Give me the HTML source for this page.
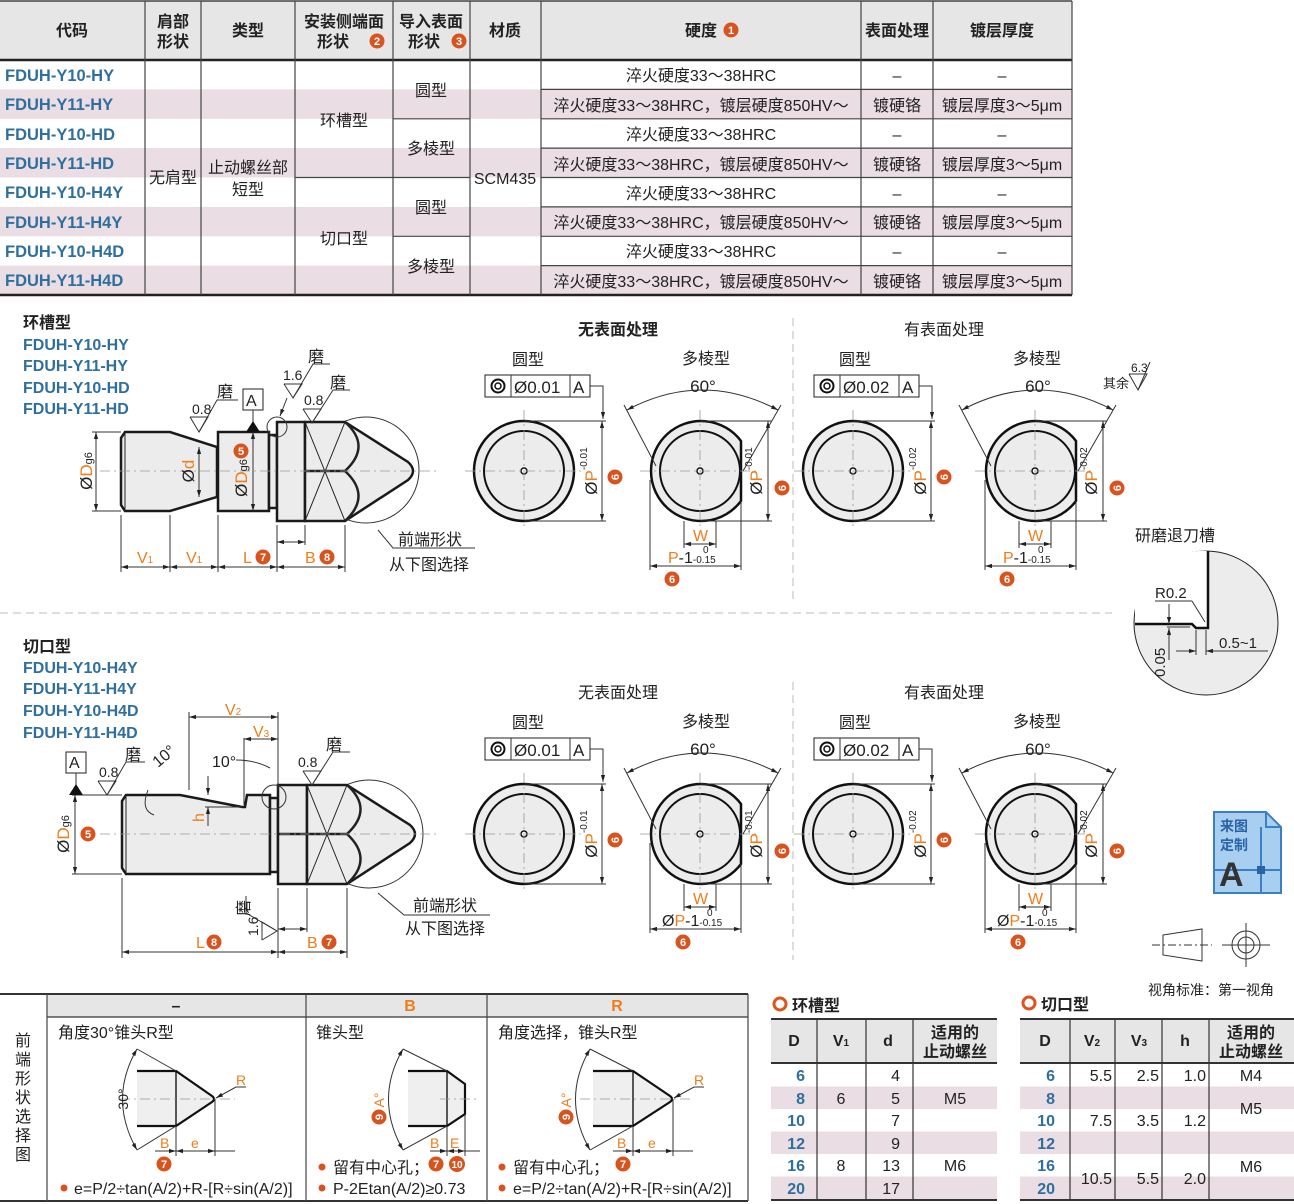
<!DOCTYPE html>
<html><head><meta charset="utf-8">
<style>
html,body{margin:0;padding:0;background:#fff;}
svg{display:block;font-family:"Liberation Sans","Noto Sans CJK SC",sans-serif;}
.t{font-size:16px;fill:#222;}
.c{text-anchor:middle;}
.b{font-weight:bold;}
.blue{fill:#2f6f9e;font-weight:bold;}
.or{fill:#ee7d1a;}
.ln{stroke:#222;fill:none;}
.thin{stroke:#333;stroke-width:1;fill:none;}
.cl{stroke:#999;stroke-width:0.8;stroke-dasharray:10 4 2 4;fill:none;}
.part{fill:#ececec;stroke:#1a1a1a;stroke-width:2.5;}
</style></head>
<body>
<svg width="1294" height="1204" viewBox="0 0 1294 1204" xmlns="http://www.w3.org/2000/svg">
<defs>
<marker id="ar" viewBox="0 0 10 10" refX="10" refY="5" markerWidth="7" markerHeight="7" orient="auto-start-reverse"><path d="M0,2 L10,5 L0,8 z" fill="#222"/></marker>
</defs>

<!-- ================= TOP TABLE ================= -->
<rect x="0" y="1" width="1072" height="59" fill="#e6e6e6"/>
<g fill="#eadde3">
<rect x="0" y="89.4" width="1072" height="29.4"/>
<rect x="0" y="148.1" width="1072" height="29.4"/>
<rect x="0" y="206.9" width="1072" height="29.4"/>
<rect x="0" y="265.6" width="1072" height="29.4"/>
</g>
<line x1="0" y1="1" x2="1072" y2="1" stroke="#444" stroke-width="1.5"/>
<line x1="0" y1="60" x2="1072" y2="60" stroke="#222" stroke-width="2.5"/>
<line x1="0" y1="295" x2="1072" y2="295" stroke="#222" stroke-width="2.5"/>
<g stroke="#444" stroke-width="1.2">
<line x1="145" y1="1" x2="145" y2="295"/>
<line x1="201" y1="1" x2="201" y2="295"/>
<line x1="295" y1="1" x2="295" y2="295"/>
<line x1="393" y1="1" x2="393" y2="295"/>
<line x1="470" y1="1" x2="470" y2="295"/>
<line x1="541" y1="1" x2="541" y2="295"/>
<line x1="861" y1="1" x2="861" y2="295"/>
<line x1="933" y1="1" x2="933" y2="295"/>
<line x1="1072" y1="1" x2="1072" y2="295"/>
<!-- row lines in hardness cols -->
<line x1="541" y1="89.4" x2="1072" y2="89.4"/>
<line x1="541" y1="118.8" x2="1072" y2="118.8"/>
<line x1="541" y1="148.1" x2="1072" y2="148.1"/>
<line x1="541" y1="177.5" x2="1072" y2="177.5"/>
<line x1="541" y1="206.9" x2="1072" y2="206.9"/>
<line x1="541" y1="236.3" x2="1072" y2="236.3"/>
<line x1="541" y1="265.6" x2="1072" y2="265.6"/>
<!-- merged col lines -->
<line x1="393" y1="118.8" x2="470" y2="118.8"/>
<line x1="295" y1="177.5" x2="470" y2="177.5"/>
<line x1="393" y1="236.3" x2="470" y2="236.3"/>
</g>
<g class="t b" style="font-size:16px">
<text x="72" y="36" class="c">代码</text>
<text x="173" y="27" class="c">肩部</text>
<text x="173" y="47" class="c">形状</text>
<text x="248" y="36" class="c">类型</text>
<text x="344" y="27" class="c">安装侧端面</text>
<text x="333" y="47" class="c">形状</text>
<text x="431" y="27" class="c">导入表面</text>
<text x="424" y="47" class="c">形状</text>
<text x="505" y="36" class="c">材质</text>
<text x="701" y="36" class="c">硬度</text>
<text x="897" y="36" class="c">表面处理</text>
<text x="1002" y="36" class="c">镀层厚度</text>
</g>
<g fill="#d9531e"><circle cx="377" cy="41" r="7.5"/><circle cx="459" cy="41" r="7.5"/><circle cx="731" cy="30" r="7.5"/></g>
<g fill="#fff" font-size="11" font-weight="bold" text-anchor="middle"><text x="377" y="45">2</text><text x="459" y="45">3</text><text x="731" y="34">1</text></g>

<g class="blue" font-size="16.5">
<text x="5" y="81">FDUH-Y10-HY</text>
<text x="5" y="110">FDUH-Y11-HY</text>
<text x="5" y="140">FDUH-Y10-HD</text>
<text x="5" y="169">FDUH-Y11-HD</text>
<text x="5" y="198">FDUH-Y10-H4Y</text>
<text x="5" y="228">FDUH-Y11-H4Y</text>
<text x="5" y="257">FDUH-Y10-H4D</text>
<text x="5" y="286">FDUH-Y11-H4D</text>
</g>
<g class="t">
<text x="173" y="183" class="c">无肩型</text>
<text x="248" y="173" class="c">止动螺丝部</text>
<text x="248" y="195" class="c">短型</text>
<text x="344" y="126" class="c">环槽型</text>
<text x="344" y="244" class="c">切口型</text>
<text x="431" y="96" class="c">圆型</text>
<text x="431" y="154" class="c">多棱型</text>
<text x="431" y="213" class="c">圆型</text>
<text x="431" y="272" class="c">多棱型</text>
<text x="505" y="184" class="c">SCM435</text>
</g>
<g class="t c">
<text x="701" y="81">淬火硬度33～38HRC</text>
<text x="701" y="111">淬火硬度33～38HRC，镀层硬度850HV～</text>
<text x="701" y="140">淬火硬度33～38HRC</text>
<text x="701" y="170">淬火硬度33～38HRC，镀层硬度850HV～</text>
<text x="701" y="199">淬火硬度33～38HRC</text>
<text x="701" y="228">淬火硬度33～38HRC，镀层硬度850HV～</text>
<text x="701" y="257">淬火硬度33～38HRC</text>
<text x="701" y="287">淬火硬度33～38HRC，镀层硬度850HV～</text>
<text x="897" y="81">–</text><text x="897" y="111">镀硬铬</text>
<text x="897" y="140">–</text><text x="897" y="170">镀硬铬</text>
<text x="897" y="199">–</text><text x="897" y="228">镀硬铬</text>
<text x="897" y="257">–</text><text x="897" y="287">镀硬铬</text>
<text x="1002" y="81">–</text><text x="1002" y="111">镀层厚度3～5μm</text>
<text x="1002" y="140">–</text><text x="1002" y="170">镀层厚度3～5μm</text>
<text x="1002" y="199">–</text><text x="1002" y="228">镀层厚度3～5μm</text>
<text x="1002" y="257">–</text><text x="1002" y="287">镀层厚度3～5μm</text>
</g>

<!-- separators -->
<line x1="0" y1="613" x2="1112" y2="613" stroke="#bbb" stroke-dasharray="8 5"/>
<line x1="793" y1="318" x2="793" y2="600" stroke="#bbb" stroke-dasharray="8 5"/>
<line x1="793" y1="682" x2="793" y2="960" stroke="#bbb" stroke-dasharray="8 5"/>

<!-- ================= 环槽型 drawing ================= -->
<text x="23" y="328" class="t b">环槽型</text>
<g class="blue" font-size="16"><text x="23" y="350">FDUH-Y10-HY</text><text x="23" y="371">FDUH-Y11-HY</text><text x="23" y="393">FDUH-Y10-HD</text><text x="23" y="414">FDUH-Y11-HD</text></g>

<circle cx="366" cy="470" r="53" fill="none" stroke="#333" stroke-width="1"/>
<path class="part" d="M125,432 L170,432 L217,447 L217,497 L170,511 L125,511 L121,505 L121,438 Z"/>
<line x1="125" y1="432" x2="125" y2="511" stroke="#222" stroke-width="1"/>
<rect class="part" x="218" y="432" width="51" height="79"/>
<rect class="part" x="269" y="435" width="8" height="73"/>
<rect class="part" x="277" y="422" width="28" height="99"/>
<path class="part" d="M305,422 L345,422 L408,462 Q418,471 408,480 L345,521 L305,521 Z"/>
<g stroke="#222" stroke-width="1" fill="none">
<line x1="305" y1="422" x2="345" y2="521"/><line x1="345" y1="422" x2="305" y2="521"/>
<line x1="305" y1="471" x2="345" y2="471" stroke-width="2.5"/>
<path d="M345,422 Q372,446 345,471 Q372,496 345,521" stroke-width="2.5"/>
</g>
<line class="cl" x1="100" y1="471" x2="440" y2="471"/>
<circle cx="277" cy="427" r="10" fill="none" stroke="#333"/>
<!-- dims -->
<g class="thin">
<line x1="96" y1="432" x2="96" y2="511" marker-start="url(#ar)" marker-end="url(#ar)"/>
<line x1="92" y1="432" x2="121" y2="432"/><line x1="92" y1="511" x2="121" y2="511"/>
<line x1="199" y1="447" x2="199" y2="497" marker-start="url(#ar)" marker-end="url(#ar)"/>
<line x1="253" y1="432" x2="253" y2="511" marker-start="url(#ar)" marker-end="url(#ar)"/>
<line x1="121" y1="515" x2="121" y2="572"/><line x1="170" y1="515" x2="170" y2="572"/>
<line x1="218" y1="515" x2="218" y2="572"/><line x1="277" y1="525" x2="277" y2="572"/>
<line x1="305" y1="525" x2="305" y2="545"/><line x1="345" y1="525" x2="345" y2="572"/>
<line x1="121" y1="567" x2="170" y2="567" marker-start="url(#ar)" marker-end="url(#ar)"/>
<line x1="170" y1="567" x2="218" y2="567" marker-start="url(#ar)" marker-end="url(#ar)"/>
<line x1="218" y1="567" x2="277" y2="567" marker-start="url(#ar)" marker-end="url(#ar)"/>
<line x1="277" y1="567" x2="345" y2="567" marker-start="url(#ar)" marker-end="url(#ar)"/>
<line x1="277" y1="542" x2="305" y2="542" marker-start="url(#ar)" marker-end="url(#ar)"/>
<polyline points="378,530 393,548 475,548"/>
<!-- roughness -->
<polyline points="190,417 208,417 199,432 190,417"/><polyline points="199,432 217,400 238,400"/>
<polyline points="284,384 302,384 293,398 284,384"/><polyline points="293,398 313,364 330,364"/>
<line x1="287" y1="398" x2="280" y2="416" marker-end="url(#ar)"/>
<polyline points="303,409 321,409 312,423 303,409"/><polyline points="312,423 333,390 350,390"/>
<rect x="243" y="389" width="20" height="21" stroke="#222"/>
<line x1="253" y1="410" x2="253" y2="423"/>
</g>
<path d="M246,432 L260,432 L253,421 Z" fill="#111"/>
<g font-size="14" fill="#222"><text x="192" y="414">0.8</text><text x="283" y="380">1.6</text><text x="304" y="405">0.8</text></g>
<g class="t"><text x="217" y="397">磨</text><text x="308" y="362">磨</text><text x="330" y="388">磨</text><text x="246" y="406" font-size="16">A</text>
<text x="398" y="545">前端形状</text><text x="389" y="570">从下图选择</text></g>
<text transform="rotate(-90 92 471)" x="92" y="471" font-size="17" text-anchor="middle" fill="#222">Ø<tspan class="or">D</tspan><tspan font-size="11">g6</tspan></text>
<text transform="rotate(-90 194 471)" x="194" y="471" font-size="17" text-anchor="middle" fill="#222">Ø<tspan class="or">d</tspan></text>
<text transform="rotate(-90 247 478)" x="247" y="478" font-size="17" text-anchor="middle" fill="#222">Ø<tspan class="or">D</tspan><tspan font-size="11">g6</tspan></text>
<g font-size="16" class="or"><text x="137" y="563">V<tspan font-size="10">1</tspan></text><text x="186" y="563">V<tspan font-size="10">1</tspan></text><text x="243" y="563">L</text><text x="305" y="563">B</text></g>

<!-- ================= 切口型 drawing ================= -->
<text x="23" y="652" class="t b">切口型</text>
<g class="blue" font-size="16"><text x="23" y="673">FDUH-Y10-H4Y</text><text x="23" y="694">FDUH-Y11-H4Y</text><text x="23" y="716">FDUH-Y10-H4D</text><text x="23" y="738">FDUH-Y11-H4D</text></g>

<circle cx="369" cy="834" r="54" fill="none" stroke="#333" stroke-width="1"/>
<path class="part" d="M126,795 L180,795 L242,807 L245,807 L247,795 L270,795 L270,874 L126,874 L122,868 L122,801 Z"/>
<line x1="126" y1="795" x2="126" y2="874" stroke="#222" stroke-width="1"/>
<rect class="part" x="270" y="798" width="8" height="74"/>
<rect class="part" x="278" y="785" width="29" height="99"/>
<path class="part" d="M307,785 L347,785 L410,825 Q420,834 410,843 L347,884 L307,884 Z"/>
<g stroke="#222" stroke-width="1" fill="none">
<line x1="307" y1="785" x2="347" y2="884"/><line x1="347" y1="785" x2="307" y2="884"/>
<line x1="278" y1="834" x2="347" y2="834" stroke-width="2.5"/>
<path d="M347,785 Q374,809 347,834 Q374,859 347,884" stroke-width="2.5"/>
</g>
<line class="cl" x1="100" y1="834" x2="440" y2="834"/>
<circle cx="274" cy="797" r="12" fill="none" stroke="#333"/>
<g class="thin">
<line x1="75" y1="795" x2="75" y2="874" marker-start="url(#ar)" marker-end="url(#ar)"/>
<line x1="72" y1="795" x2="122" y2="795"/><line x1="72" y1="874" x2="122" y2="874"/>
<line x1="122" y1="878" x2="122" y2="958"/><line x1="278" y1="888" x2="278" y2="958"/>
<line x1="307" y1="888" x2="307" y2="932"/><line x1="347" y1="888" x2="347" y2="958"/>
<line x1="122" y1="952" x2="278" y2="952" marker-start="url(#ar)" marker-end="url(#ar)"/>
<line x1="278" y1="952" x2="347" y2="952" marker-start="url(#ar)" marker-end="url(#ar)"/>
<line x1="278" y1="929" x2="307" y2="929" marker-start="url(#ar)" marker-end="url(#ar)"/>
<line x1="189" y1="712" x2="189" y2="790"/><line x1="278" y1="712" x2="278" y2="790"/>
<line x1="244" y1="738" x2="244" y2="805"/>
<line x1="189" y1="717" x2="278" y2="717" marker-start="url(#ar)" marker-end="url(#ar)"/>
<line x1="244" y1="739" x2="278" y2="739" marker-start="url(#ar)" marker-end="url(#ar)"/>
<line x1="208" y1="776" x2="208" y2="795" marker-end="url(#ar)"/>
<line x1="208" y1="826" x2="208" y2="807" marker-end="url(#ar)"/>
<line x1="205" y1="807" x2="242" y2="807"/>
<path d="M148,790 Q140,810 154,815"/>
<path d="M236,760 Q255,760 270,768"/>
<polyline points="98,781 116,781 107,795 98,781"/><polyline points="107,795 126,762 145,762"/>
<polyline points="303,771 321,771 312,785 303,771"/><polyline points="312,785 333,752 350,752"/>
<polyline points="262,940 262,922 277,931 262,940"/><polyline points="277,931 246,913 246,896"/>
<polyline points="378,893 404,915 490,915"/>
<rect x="66" y="752" width="20" height="21" stroke="#222"/>
<line x1="76" y1="773" x2="76" y2="786"/>
</g>
<path d="M69,795 L83,795 L76,784 Z" fill="#111"/>
<g font-size="14" fill="#222"><text x="99" y="777">0.8</text><text x="298" y="767">0.8</text><text transform="rotate(-90 258 936)" x="258" y="936">1.6</text>
<text transform="rotate(-40 158 768)" x="158" y="768" font-size="16">10°</text><text x="212" y="767" font-size="16">10°</text></g>
<g class="t"><text x="125" y="760">磨</text><text x="326" y="750">磨</text><text x="69" y="768">A</text><text transform="rotate(-90 242 902)" x="228" y="909">磨</text>
<text x="413" y="911">前端形状</text><text x="405" y="934">从下图选择</text></g>
<text transform="rotate(-90 69 834)" x="69" y="834" font-size="17" text-anchor="middle" fill="#222">Ø<tspan class="or">D</tspan><tspan font-size="11">g6</tspan></text>
<text transform="rotate(-90 204 822)" x="204" y="822" font-size="16" class="or">h</text>
<g font-size="16" class="or"><text x="225" y="715">V<tspan font-size="10">2</tspan></text><text x="253" y="737">V<tspan font-size="10">3</tspan></text><text x="196" y="948">L</text><text x="307" y="948">B</text></g>

<!-- badges -->
<g fill="#d9531e">
<circle cx="241" cy="451" r="7.5"/><circle cx="263" cy="557" r="7.5"/><circle cx="327" cy="557" r="7.5"/>
<circle cx="88" cy="834" r="7.5"/><circle cx="214" cy="942" r="7.5"/><circle cx="329" cy="942" r="7.5"/>
</g>
<g fill="#fff" font-size="11" font-weight="bold" text-anchor="middle">
<text x="241" y="455">5</text><text x="263" y="561">7</text><text x="327" y="561">8</text>
<text x="88" y="838">5</text><text x="214" y="946">8</text><text x="329" y="946">7</text>
</g>

<!-- ================= circle views ================= -->
<g id="views">
<g font-size="16" class="t">
<text x="618" y="335" class="c b" font-weight="500">无表面处理</text><text x="944" y="335" class="c">有表面处理</text>
<text x="528" y="365" class="c">圆型</text><text x="706" y="364" class="c">多棱型</text>
<text x="855" y="365" class="c">圆型</text><text x="1037" y="364" class="c">多棱型</text>
<text x="618" y="698" class="c">无表面处理</text><text x="944" y="698" class="c">有表面处理</text>
<text x="528" y="728" class="c">圆型</text><text x="706" y="727" class="c">多棱型</text>
<text x="855" y="728" class="c">圆型</text><text x="1037" y="727" class="c">多棱型</text>
</g>
</g>
<!-- generic round view function expanded: 4 round, 4 multi -->
<!-- round view A (524,471) -->
<g>
<circle cx="524" cy="471" r="50" fill="#ececec" stroke="#111" stroke-width="2.5"/>
<circle cx="524" cy="471" r="40" fill="none" stroke="#111" stroke-width="2"/>
<circle cx="524" cy="471" r="3" fill="#fff" stroke="#111" stroke-width="1.5"/>
<line class="cl" x1="465" y1="471" x2="585" y2="471"/><line class="cl" x1="524" y1="410" x2="524" y2="530"/>
<g class="thin"><line x1="524" y1="421" x2="606" y2="421"/><line x1="524" y1="521" x2="606" y2="521"/>
<line x1="602" y1="421" x2="602" y2="521" marker-start="url(#ar)" marker-end="url(#ar)"/>
<polyline points="590,386 603,386 603,419" marker-end="url(#ar)"/>
<rect x="485" y="375" width="105" height="22" stroke="#222"/><line x1="511" y1="375" x2="511" y2="397"/><line x1="570" y1="375" x2="570" y2="397"/></g>
<circle cx="498" cy="386" r="6.5" fill="none" stroke="#111" stroke-width="2"/><circle cx="498" cy="386" r="3" fill="none" stroke="#111" stroke-width="1.5"/>
<text x="514" y="393" font-size="17" fill="#222">Ø0.01</text><text x="573" y="393" font-size="17" fill="#222">A</text>
<text transform="rotate(-90 597 471)" x="597" y="471" font-size="17" text-anchor="middle" fill="#222">Ø<tspan class="or">P</tspan><tspan font-size="10" dy="-10">-0.01</tspan></text>
<circle cx="615" cy="477" r="7.5" fill="#d9531e"/><text transform="rotate(-90 615 477)" x="615" y="481" fill="#fff" font-size="11" font-weight="bold" text-anchor="middle">6</text>
</g>
<g transform="translate(329,0)">
<circle cx="524" cy="471" r="50" fill="#ececec" stroke="#111" stroke-width="2.5"/>
<circle cx="524" cy="471" r="40" fill="none" stroke="#111" stroke-width="2"/>
<circle cx="524" cy="471" r="3" fill="#fff" stroke="#111" stroke-width="1.5"/>
<line class="cl" x1="465" y1="471" x2="585" y2="471"/><line class="cl" x1="524" y1="410" x2="524" y2="530"/>
<g class="thin"><line x1="524" y1="421" x2="606" y2="421"/><line x1="524" y1="521" x2="606" y2="521"/>
<line x1="602" y1="421" x2="602" y2="521" marker-start="url(#ar)" marker-end="url(#ar)"/>
<polyline points="590,386 603,386 603,419" marker-end="url(#ar)"/>
<rect x="485" y="375" width="105" height="22" stroke="#222"/><line x1="511" y1="375" x2="511" y2="397"/><line x1="570" y1="375" x2="570" y2="397"/></g>
<circle cx="498" cy="386" r="6.5" fill="none" stroke="#111" stroke-width="2"/><circle cx="498" cy="386" r="3" fill="none" stroke="#111" stroke-width="1.5"/>
<text x="514" y="393" font-size="17" fill="#222">Ø0.02</text><text x="573" y="393" font-size="17" fill="#222">A</text>
<text transform="rotate(-90 597 471)" x="597" y="471" font-size="17" text-anchor="middle" fill="#222">Ø<tspan class="or">P</tspan><tspan font-size="10" dy="-10">-0.02</tspan></text>
<circle cx="615" cy="477" r="7.5" fill="#d9531e"/><text transform="rotate(-90 615 477)" x="615" y="481" fill="#fff" font-size="11" font-weight="bold" text-anchor="middle">6</text>
</g>
<g transform="translate(0,363)">
<circle cx="524" cy="471" r="50" fill="#ececec" stroke="#111" stroke-width="2.5"/>
<circle cx="524" cy="471" r="40" fill="none" stroke="#111" stroke-width="2"/>
<circle cx="524" cy="471" r="3" fill="#fff" stroke="#111" stroke-width="1.5"/>
<line class="cl" x1="465" y1="471" x2="585" y2="471"/><line class="cl" x1="524" y1="410" x2="524" y2="530"/>
<g class="thin"><line x1="524" y1="421" x2="606" y2="421"/><line x1="524" y1="521" x2="606" y2="521"/>
<line x1="602" y1="421" x2="602" y2="521" marker-start="url(#ar)" marker-end="url(#ar)"/>
<polyline points="590,386 603,386 603,419" marker-end="url(#ar)"/>
<rect x="485" y="375" width="105" height="22" stroke="#222"/><line x1="511" y1="375" x2="511" y2="397"/><line x1="570" y1="375" x2="570" y2="397"/></g>
<circle cx="498" cy="386" r="6.5" fill="none" stroke="#111" stroke-width="2"/><circle cx="498" cy="386" r="3" fill="none" stroke="#111" stroke-width="1.5"/>
<text x="514" y="393" font-size="17" fill="#222">Ø0.01</text><text x="573" y="393" font-size="17" fill="#222">A</text>
<text transform="rotate(-90 597 471)" x="597" y="471" font-size="17" text-anchor="middle" fill="#222">Ø<tspan class="or">P</tspan><tspan font-size="10" dy="-10">-0.01</tspan></text>
<circle cx="615" cy="477" r="7.5" fill="#d9531e"/><text transform="rotate(-90 615 477)" x="615" y="481" fill="#fff" font-size="11" font-weight="bold" text-anchor="middle">6</text>
</g>
<g transform="translate(329,363)">
<circle cx="524" cy="471" r="50" fill="#ececec" stroke="#111" stroke-width="2.5"/>
<circle cx="524" cy="471" r="40" fill="none" stroke="#111" stroke-width="2"/>
<circle cx="524" cy="471" r="3" fill="#fff" stroke="#111" stroke-width="1.5"/>
<line class="cl" x1="465" y1="471" x2="585" y2="471"/><line class="cl" x1="524" y1="410" x2="524" y2="530"/>
<g class="thin"><line x1="524" y1="421" x2="606" y2="421"/><line x1="524" y1="521" x2="606" y2="521"/>
<line x1="602" y1="421" x2="602" y2="521" marker-start="url(#ar)" marker-end="url(#ar)"/>
<polyline points="590,386 603,386 603,419" marker-end="url(#ar)"/>
<rect x="485" y="375" width="105" height="22" stroke="#222"/><line x1="511" y1="375" x2="511" y2="397"/><line x1="570" y1="375" x2="570" y2="397"/></g>
<circle cx="498" cy="386" r="6.5" fill="none" stroke="#111" stroke-width="2"/><circle cx="498" cy="386" r="3" fill="none" stroke="#111" stroke-width="1.5"/>
<text x="514" y="393" font-size="17" fill="#222">Ø0.02</text><text x="573" y="393" font-size="17" fill="#222">A</text>
<text transform="rotate(-90 597 471)" x="597" y="471" font-size="17" text-anchor="middle" fill="#222">Ø<tspan class="or">P</tspan><tspan font-size="10" dy="-10">-0.02</tspan></text>
<circle cx="615" cy="477" r="7.5" fill="#d9531e"/><text transform="rotate(-90 615 477)" x="615" y="481" fill="#fff" font-size="11" font-weight="bold" text-anchor="middle">6</text>
</g>

<!-- multi views -->
<g id="m1">
<path d="M741,441 A50,50 0 1 0 741,501 Z" fill="#ececec" stroke="#111" stroke-width="2.5"/>
<circle cx="700" cy="471" r="40" fill="none" stroke="#111" stroke-width="2"/>
<circle cx="700" cy="471" r="3" fill="#fff" stroke="#111" stroke-width="1.5"/>
<line class="cl" x1="640" y1="471" x2="760" y2="471"/><line class="cl" x1="700" y1="410" x2="700" y2="530"/>
<g class="thin">
<path d="M627,410 Q702,370 778,410" marker-start="url(#ar)" marker-end="url(#ar)"/>
<line x1="624" y1="405" x2="656" y2="466"/><line x1="781" y1="405" x2="743" y2="471"/>
<line x1="700" y1="421" x2="772" y2="421"/><line x1="700" y1="521" x2="772" y2="521"/>
<line x1="768" y1="421" x2="768" y2="521" marker-start="url(#ar)" marker-end="url(#ar)"/>
<line x1="684" y1="521" x2="684" y2="548"/><line x1="716" y1="521" x2="716" y2="548"/>
<line x1="684" y1="544" x2="716" y2="544" marker-start="url(#ar)" marker-end="url(#ar)"/>
<line x1="650" y1="480" x2="650" y2="570"/><line x1="741" y1="501" x2="741" y2="570"/>
<line x1="650" y1="566" x2="741" y2="566" marker-start="url(#ar)" marker-end="url(#ar)"/>
</g>
<text x="703" y="392" font-size="17" fill="#222" text-anchor="middle">60°</text>
<text x="693" y="541" font-size="16" class="or">W</text>
<text x="668" y="563" font-size="16" fill="#222"><tspan class="or">P</tspan>-1<tspan font-size="10">-0.15</tspan></text>
<text x="703" y="553" font-size="10" fill="#222">0</text>
<text transform="rotate(-90 762 471)" x="762" y="471" font-size="17" text-anchor="middle" fill="#222">Ø<tspan class="or">P</tspan><tspan font-size="10" dy="-10">-0.01</tspan></text>
<circle cx="782" cy="488" r="7.5" fill="#d9531e"/><text transform="rotate(-90 782 488)" x="782" y="492" fill="#fff" font-size="11" font-weight="bold" text-anchor="middle">6</text>
<circle cx="672" cy="579" r="7.5" fill="#d9531e"/><text x="672" y="583" fill="#fff" font-size="11" font-weight="bold" text-anchor="middle">6</text>
</g>
<g transform="translate(335,0)">
<path d="M741,441 A50,50 0 1 0 741,501 Z" fill="#ececec" stroke="#111" stroke-width="2.5"/>
<circle cx="700" cy="471" r="40" fill="none" stroke="#111" stroke-width="2"/>
<circle cx="700" cy="471" r="3" fill="#fff" stroke="#111" stroke-width="1.5"/>
<line class="cl" x1="640" y1="471" x2="760" y2="471"/><line class="cl" x1="700" y1="410" x2="700" y2="530"/>
<g class="thin">
<path d="M627,410 Q702,370 778,410" marker-start="url(#ar)" marker-end="url(#ar)"/>
<line x1="624" y1="405" x2="656" y2="466"/><line x1="781" y1="405" x2="743" y2="471"/>
<line x1="700" y1="421" x2="772" y2="421"/><line x1="700" y1="521" x2="772" y2="521"/>
<line x1="768" y1="421" x2="768" y2="521" marker-start="url(#ar)" marker-end="url(#ar)"/>
<line x1="684" y1="521" x2="684" y2="548"/><line x1="716" y1="521" x2="716" y2="548"/>
<line x1="684" y1="544" x2="716" y2="544" marker-start="url(#ar)" marker-end="url(#ar)"/>
<line x1="650" y1="480" x2="650" y2="570"/><line x1="741" y1="501" x2="741" y2="570"/>
<line x1="650" y1="566" x2="741" y2="566" marker-start="url(#ar)" marker-end="url(#ar)"/>
</g>
<text x="703" y="392" font-size="17" fill="#222" text-anchor="middle">60°</text>
<text x="693" y="541" font-size="16" class="or">W</text>
<text x="668" y="563" font-size="16" fill="#222"><tspan class="or">P</tspan>-1<tspan font-size="10">-0.15</tspan></text>
<text x="703" y="553" font-size="10" fill="#222">0</text>
<text transform="rotate(-90 762 471)" x="762" y="471" font-size="17" text-anchor="middle" fill="#222">Ø<tspan class="or">P</tspan><tspan font-size="10" dy="-10">-0.02</tspan></text>
<circle cx="782" cy="488" r="7.5" fill="#d9531e"/><text transform="rotate(-90 782 488)" x="782" y="492" fill="#fff" font-size="11" font-weight="bold" text-anchor="middle">6</text>
<circle cx="672" cy="579" r="7.5" fill="#d9531e"/><text x="672" y="583" fill="#fff" font-size="11" font-weight="bold" text-anchor="middle">6</text>
</g>
<g transform="translate(0,363)">
<path d="M741,441 A50,50 0 1 0 741,501 Z" fill="#ececec" stroke="#111" stroke-width="2.5"/>
<circle cx="700" cy="471" r="40" fill="none" stroke="#111" stroke-width="2"/>
<circle cx="700" cy="471" r="3" fill="#fff" stroke="#111" stroke-width="1.5"/>
<line class="cl" x1="640" y1="471" x2="760" y2="471"/><line class="cl" x1="700" y1="410" x2="700" y2="530"/>
<g class="thin">
<path d="M627,410 Q702,370 778,410" marker-start="url(#ar)" marker-end="url(#ar)"/>
<line x1="624" y1="405" x2="656" y2="466"/><line x1="781" y1="405" x2="743" y2="471"/>
<line x1="700" y1="421" x2="772" y2="421"/><line x1="700" y1="521" x2="772" y2="521"/>
<line x1="768" y1="421" x2="768" y2="521" marker-start="url(#ar)" marker-end="url(#ar)"/>
<line x1="684" y1="521" x2="684" y2="548"/><line x1="716" y1="521" x2="716" y2="548"/>
<line x1="684" y1="544" x2="716" y2="544" marker-start="url(#ar)" marker-end="url(#ar)"/>
<line x1="650" y1="480" x2="650" y2="570"/><line x1="741" y1="501" x2="741" y2="570"/>
<line x1="650" y1="566" x2="741" y2="566" marker-start="url(#ar)" marker-end="url(#ar)"/>
</g>
<text x="703" y="392" font-size="17" fill="#222" text-anchor="middle">60°</text>
<text x="693" y="541" font-size="16" class="or">W</text>
<text x="662" y="563" font-size="16" fill="#222">Ø<tspan class="or">P</tspan>-1<tspan font-size="10">-0.15</tspan></text>
<text x="707" y="553" font-size="10" fill="#222">0</text>
<text transform="rotate(-90 762 471)" x="762" y="471" font-size="17" text-anchor="middle" fill="#222">Ø<tspan class="or">P</tspan><tspan font-size="10" dy="-10">-0.01</tspan></text>
<circle cx="782" cy="488" r="7.5" fill="#d9531e"/><text transform="rotate(-90 782 488)" x="782" y="492" fill="#fff" font-size="11" font-weight="bold" text-anchor="middle">6</text>
<circle cx="683" cy="579" r="7.5" fill="#d9531e"/><text x="683" y="583" fill="#fff" font-size="11" font-weight="bold" text-anchor="middle">6</text>
</g>
<g transform="translate(335,363)">
<path d="M741,441 A50,50 0 1 0 741,501 Z" fill="#ececec" stroke="#111" stroke-width="2.5"/>
<circle cx="700" cy="471" r="40" fill="none" stroke="#111" stroke-width="2"/>
<circle cx="700" cy="471" r="3" fill="#fff" stroke="#111" stroke-width="1.5"/>
<line class="cl" x1="640" y1="471" x2="760" y2="471"/><line class="cl" x1="700" y1="410" x2="700" y2="530"/>
<g class="thin">
<path d="M627,410 Q702,370 778,410" marker-start="url(#ar)" marker-end="url(#ar)"/>
<line x1="624" y1="405" x2="656" y2="466"/><line x1="781" y1="405" x2="743" y2="471"/>
<line x1="700" y1="421" x2="772" y2="421"/><line x1="700" y1="521" x2="772" y2="521"/>
<line x1="768" y1="421" x2="768" y2="521" marker-start="url(#ar)" marker-end="url(#ar)"/>
<line x1="684" y1="521" x2="684" y2="548"/><line x1="716" y1="521" x2="716" y2="548"/>
<line x1="684" y1="544" x2="716" y2="544" marker-start="url(#ar)" marker-end="url(#ar)"/>
<line x1="650" y1="480" x2="650" y2="570"/><line x1="741" y1="501" x2="741" y2="570"/>
<line x1="650" y1="566" x2="741" y2="566" marker-start="url(#ar)" marker-end="url(#ar)"/>
</g>
<text x="703" y="392" font-size="17" fill="#222" text-anchor="middle">60°</text>
<text x="693" y="541" font-size="16" class="or">W</text>
<text x="662" y="563" font-size="16" fill="#222">Ø<tspan class="or">P</tspan>-1<tspan font-size="10">-0.15</tspan></text>
<text x="707" y="553" font-size="10" fill="#222">0</text>
<text transform="rotate(-90 762 471)" x="762" y="471" font-size="17" text-anchor="middle" fill="#222">Ø<tspan class="or">P</tspan><tspan font-size="10" dy="-10">-0.02</tspan></text>
<circle cx="782" cy="488" r="7.5" fill="#d9531e"/><text transform="rotate(-90 782 488)" x="782" y="492" fill="#fff" font-size="11" font-weight="bold" text-anchor="middle">6</text>
<circle cx="683" cy="579" r="7.5" fill="#d9531e"/><text x="683" y="583" fill="#fff" font-size="11" font-weight="bold" text-anchor="middle">6</text>
</g>

<!-- 其余 roughness -->
<text x="1103" y="388" font-size="13" fill="#222">其余</text>
<polyline class="thin" points="1129,374 1147,374 1138,390 1129,374"/><polyline class="thin" points="1138,390 1150,362"/>
<text x="1131" y="372" font-size="12" fill="#222">6.3</text>

<!-- inset -->
<text x="1135" y="541" class="t">研磨退刀槽</text>
<circle cx="1206" cy="623" r="72" fill="#ececec" stroke="#222" stroke-width="1"/>
<path d="M1135,625 L1135,600 A72,72 0 0 1 1208,551 L1208,628 L1196,628 L1192,624 Z" fill="#fff"/>
<path d="M1135,624 L1192,624 L1196,628 L1208,628 L1208,551" fill="none" stroke="#111" stroke-width="2.5"/>
<g class="thin"><line x1="1155" y1="601" x2="1192" y2="601"/><line x1="1192" y1="601" x2="1205" y2="622"/>
<line x1="1169" y1="604" x2="1169" y2="624" marker-end="url(#ar)"/><line x1="1169" y1="660" x2="1169" y2="628" marker-end="url(#ar)"/>
<line x1="1167" y1="627" x2="1190" y2="627"/>
<line x1="1196" y1="630" x2="1196" y2="655"/><line x1="1206" y1="630" x2="1206" y2="655"/>
<line x1="1176" y1="651" x2="1196" y2="651" marker-end="url(#ar)"/><line x1="1268" y1="651" x2="1206" y2="651" marker-end="url(#ar)"/></g>
<text x="1155" y="598" font-size="15" fill="#222">R0.2</text>
<text transform="rotate(-90 1165 677)" x="1165" y="677" font-size="15" fill="#222">0.05</text>
<text x="1219" y="648" font-size="15" fill="#222">0.5~1</text>

<!-- blue icon -->
<path d="M1214,812 L1266,812 L1281,827 L1281,893 L1214,893 Z" fill="#a9cff0" stroke="#3b7fc4" stroke-width="2"/>
<path d="M1266,812 L1266,827 L1281,827" fill="none" stroke="#3b7fc4" stroke-width="2"/>
<line x1="1214" y1="870" x2="1281" y2="870" stroke="#3b7fc4" stroke-width="2"/><line x1="1261" y1="827" x2="1261" y2="893" stroke="#3b7fc4" stroke-width="2"/>
<rect x="1257" y="866" width="8" height="8" fill="#2a64a6"/>
<text x="1220" y="831" font-size="14" font-weight="bold" fill="#2a64a6">来图</text>
<text x="1220" y="850" font-size="14" font-weight="bold" fill="#2a64a6">定制</text>
<text x="1219" y="886" font-size="34" font-weight="bold" fill="#333">A</text>

<!-- projection -->
<g class="thin">
<path d="M1163,935 L1202,929 L1202,961 L1163,955 Z"/>
<line x1="1152" y1="945" x2="1212" y2="945" stroke-dasharray="8 3 2 3"/>
<circle cx="1246" cy="945" r="14"/><circle cx="1246" cy="945" r="8"/>
<line x1="1222" y1="945" x2="1270" y2="945"/><line x1="1246" y1="923" x2="1246" y2="967"/>
</g>
<text x="1148" y="995" font-size="14" fill="#222">视角标准：第一视角</text>

<!-- ================= bottom left table ================= -->
<rect x="47" y="995" width="701" height="22" fill="#e6e6e6"/>
<line x1="0" y1="994" x2="748" y2="994" stroke="#333" stroke-width="2"/>
<line x1="47" y1="1017" x2="748" y2="1017" stroke="#333" stroke-width="1.2"/>
<line x1="0" y1="1201" x2="748" y2="1201" stroke="#333" stroke-width="2"/>
<g stroke="#444" stroke-width="1.2"><line x1="47" y1="994" x2="47" y2="1201"/><line x1="306" y1="994" x2="306" y2="1201"/><line x1="487" y1="994" x2="487" y2="1201"/><line x1="748" y1="994" x2="748" y2="1201"/></g>
<g class="t b" font-size="16"><text x="176" y="1011" class="c">–</text><text x="410" y="1011" class="c or">B</text><text x="617" y="1011" class="c or">R</text></g>
<g class="t" font-size="16" text-anchor="middle">
<text x="23" y="1046">前</text><text x="23" y="1065">端</text><text x="23" y="1084">形</text><text x="23" y="1103">状</text><text x="23" y="1122">选</text><text x="23" y="1141">择</text><text x="23" y="1160">图</text>
</g>
<g class="t"><text x="58" y="1038">角度30°锥头R型</text><text x="316" y="1038">锥头型</text><text x="498" y="1038">角度选择，锥头R型</text></g>
<!-- panel 1 -->
<path d="M137,1071 L176,1071 L212,1096 Q216,1099 212,1102 L176,1126 L137,1126 Z" fill="#efefef"/>
<line x1="176" y1="1071" x2="176" y2="1126" stroke="#222" stroke-width="1.5"/>
<path d="M137,1071 L176,1071 L212,1096 Q216,1099 212,1102 L176,1126 L137,1126" fill="none" stroke="#111" stroke-width="2.2"/>
<line class="cl" x1="120" y1="1099" x2="235" y2="1099"/>
<g class="thin"><path d="M137,1049 Q108,1099 137,1150" marker-start="url(#ar)" marker-end="url(#ar)"/>
<line x1="137" y1="1049" x2="176" y2="1071"/><line x1="137" y1="1150" x2="176" y2="1126"/>
<line x1="176" y1="1126" x2="176" y2="1156"/><line x1="215" y1="1099" x2="215" y2="1156"/>
<line x1="155" y1="1151" x2="176" y2="1151" marker-end="url(#ar)"/><line x1="176" y1="1151" x2="215" y2="1151" marker-start="url(#ar)" marker-end="url(#ar)"/><line x1="215" y1="1151" x2="235" y2="1151"/>
<polyline points="216,1098 236,1087 246,1087" marker-start="url(#ar)"/></g>
<text transform="rotate(-90 121 1099)" x="121" y="1106" font-size="14" fill="#222" text-anchor="middle">30°</text>
<text x="236" y="1085" font-size="14" class="or">R</text>
<text x="160" y="1148" font-size="14" class="or">B</text><text x="191" y="1148" font-size="14" class="or">e</text>
<circle cx="164" cy="1164" r="7.5" fill="#d9531e"/><text x="164" y="1168" fill="#fff" font-size="11" font-weight="bold" text-anchor="middle">7</text>
<circle cx="64" cy="1188" r="3.5" fill="#d9531e"/><text x="74" y="1194" font-size="16" fill="#222">e=P/2÷tan(A/2)+R-[R÷sin(A/2)]</text>
<!-- panel 2 -->
<path d="M408,1071 L447,1071 L465,1084 L465,1114 L447,1126 L408,1126 Z" fill="#efefef"/>
<line x1="447" y1="1071" x2="447" y2="1126" stroke="#222" stroke-width="1.5"/>
<path d="M408,1071 L447,1071 L465,1084 L465,1114 L447,1126 L408,1126" fill="none" stroke="#111" stroke-width="2.2"/>
<line class="cl" x1="440" y1="1099" x2="480" y2="1099"/>
<g class="thin"><path d="M403,1049 Q374,1099 403,1150" marker-start="url(#ar)" marker-end="url(#ar)"/>
<line x1="403" y1="1049" x2="447" y2="1071"/><line x1="403" y1="1150" x2="447" y2="1126"/>
<line x1="447" y1="1126" x2="447" y2="1156"/><line x1="465" y1="1114" x2="465" y2="1156"/>
<line x1="430" y1="1151" x2="447" y2="1151" marker-end="url(#ar)"/><line x1="447" y1="1151" x2="465" y2="1151" marker-start="url(#ar)" marker-end="url(#ar)"/><line x1="465" y1="1151" x2="480" y2="1151"/></g>
<text transform="rotate(-90 384 1100)" x="384" y="1100" font-size="14" class="or" text-anchor="middle">A°</text>
<circle cx="379" cy="1117" r="7.5" fill="#d9531e"/><text transform="rotate(-90 379 1117)" x="379" y="1121" fill="#fff" font-size="11" font-weight="bold" text-anchor="middle">9</text>
<text x="430" y="1148" font-size="14" class="or">B</text><text x="450" y="1148" font-size="14" class="or">E</text>
<circle cx="436" cy="1164" r="7.5" fill="#d9531e"/><text x="436" y="1168" fill="#fff" font-size="11" font-weight="bold" text-anchor="middle">7</text>
<circle cx="457" cy="1164" r="8" fill="#d9531e"/><text x="457" y="1168" fill="#fff" font-size="10" font-weight="bold" text-anchor="middle">10</text>
<circle cx="322" cy="1167" r="3.5" fill="#d9531e"/><text x="333" y="1173" font-size="16" fill="#222">留有中心孔；</text>
<circle cx="322" cy="1188" r="3.5" fill="#d9531e"/><text x="333" y="1194" font-size="16" fill="#222">P-2Etan(A/2)≥0.73</text>
<!-- panel 3 -->
<path d="M593,1071 L633,1071 L670,1096 Q674,1099 670,1102 L633,1126 L593,1126 Z" fill="#efefef"/>
<line x1="633" y1="1071" x2="633" y2="1126" stroke="#222" stroke-width="1.5"/>
<path d="M593,1071 L633,1071 L670,1096 Q674,1099 670,1102 L633,1126 L593,1126" fill="none" stroke="#111" stroke-width="2.2"/>
<line class="cl" x1="580" y1="1099" x2="690" y2="1099"/>
<g class="thin"><path d="M590,1049 Q561,1099 590,1150" marker-start="url(#ar)" marker-end="url(#ar)"/>
<line x1="590" y1="1049" x2="633" y2="1071"/><line x1="590" y1="1150" x2="633" y2="1126"/>
<line x1="633" y1="1126" x2="633" y2="1156"/><line x1="673" y1="1099" x2="673" y2="1156"/>
<line x1="613" y1="1151" x2="633" y2="1151" marker-end="url(#ar)"/><line x1="633" y1="1151" x2="673" y2="1151" marker-start="url(#ar)" marker-end="url(#ar)"/><line x1="673" y1="1151" x2="693" y2="1151"/>
<polyline points="674,1098 694,1087 704,1087" marker-start="url(#ar)"/></g>
<text transform="rotate(-90 571 1100)" x="571" y="1100" font-size="14" class="or" text-anchor="middle">A°</text>
<circle cx="566" cy="1117" r="7.5" fill="#d9531e"/><text transform="rotate(-90 566 1117)" x="566" y="1121" fill="#fff" font-size="11" font-weight="bold" text-anchor="middle">9</text>
<text x="694" y="1085" font-size="14" class="or">R</text>
<text x="617" y="1148" font-size="14" class="or">B</text><text x="648" y="1148" font-size="14" class="or">e</text>
<circle cx="502" cy="1167" r="3.5" fill="#d9531e"/><text x="513" y="1173" font-size="16" fill="#222">留有中心孔；</text>
<circle cx="623" cy="1164" r="7.5" fill="#d9531e"/><text x="623" y="1168" fill="#fff" font-size="11" font-weight="bold" text-anchor="middle">7</text>
<circle cx="502" cy="1188" r="3.5" fill="#d9531e"/><text x="513" y="1194" font-size="16" fill="#222">e=P/2÷tan(A/2)+R-[R÷sin(A/2)]</text>

<!-- ================= right tables ================= -->
<circle cx="780" cy="1004" r="6" fill="none" stroke="#e0531c" stroke-width="3"/>
<text x="792" y="1011" class="t b">环槽型</text>
<circle cx="1029" cy="1003" r="6" fill="none" stroke="#e0531c" stroke-width="3"/>
<text x="1041" y="1010" class="t b">切口型</text>
<!-- table1 -->
<rect x="771" y="1019" width="226" height="44" fill="#e6e6e6"/>
<rect x="1020" y="1019" width="274" height="44" fill="#e6e6e6"/>
<g fill="#eadde3">
<rect x="771" y="1086.5" width="226" height="22.5"/><rect x="771" y="1131.5" width="226" height="22.5"/><rect x="771" y="1176.5" width="226" height="22.5"/>
<rect x="1020" y="1086.5" width="274" height="22.5"/><rect x="1020" y="1131.5" width="274" height="22.5"/><rect x="1020" y="1176.5" width="274" height="22.5"/>
</g>
<g stroke="#333">
<line x1="771" y1="1019" x2="997" y2="1019" stroke-width="2"/><line x1="771" y1="1063" x2="997" y2="1063" stroke-width="2"/><line x1="771" y1="1200" x2="997" y2="1200" stroke-width="2"/>
<line x1="1020" y1="1019" x2="1294" y2="1019" stroke-width="2"/><line x1="1020" y1="1063" x2="1294" y2="1063" stroke-width="2"/><line x1="1020" y1="1200" x2="1294" y2="1200" stroke-width="2"/>
<g stroke-width="1.2"><line x1="817" y1="1019" x2="817" y2="1200"/><line x1="866" y1="1019" x2="866" y2="1200"/><line x1="913" y1="1019" x2="913" y2="1200"/>
<line x1="1070" y1="1019" x2="1070" y2="1200"/><line x1="1115" y1="1019" x2="1115" y2="1200"/><line x1="1162" y1="1019" x2="1162" y2="1200"/><line x1="1209" y1="1019" x2="1209" y2="1200"/></g>
</g>
<g class="t b" text-anchor="middle" font-size="16">
<text x="794" y="1046">D</text><text x="841" y="1046">V<tspan font-size="10">1</tspan></text><text x="888" y="1046">d</text><text x="955" y="1038">适用的</text><text x="955" y="1057">止动螺丝</text>
<text x="1045" y="1046">D</text><text x="1092" y="1046">V<tspan font-size="10">2</tspan></text><text x="1139" y="1046">V<tspan font-size="10">3</tspan></text><text x="1185" y="1046">h</text><text x="1251" y="1038">适用的</text><text x="1251" y="1057">止动螺丝</text>
</g>
<g class="blue" font-size="16" text-anchor="end">
<text x="805" y="1081">6</text><text x="805" y="1104">8</text><text x="805" y="1126">10</text><text x="805" y="1149">12</text><text x="805" y="1171">16</text><text x="805" y="1194">20</text>
<text x="1055" y="1081">6</text><text x="1055" y="1104">8</text><text x="1055" y="1126">10</text><text x="1055" y="1149">12</text><text x="1055" y="1171">16</text><text x="1055" y="1194">20</text>
</g>
<g class="t" font-size="16">
<text x="841" y="1104" class="c">6</text><text x="841" y="1171" class="c">8</text>
<g text-anchor="end"><text x="900" y="1081">4</text><text x="900" y="1104">5</text><text x="900" y="1126">7</text><text x="900" y="1149">9</text><text x="900" y="1171">13</text><text x="900" y="1194">17</text></g>
<text x="955" y="1104" class="c">M5</text><text x="955" y="1171" class="c">M6</text>
<g text-anchor="end"><text x="1112" y="1081">5.5</text><text x="1159" y="1081">2.5</text><text x="1206" y="1081">1.0</text>
<text x="1112" y="1126">7.5</text><text x="1159" y="1126">3.5</text><text x="1206" y="1126">1.2</text>
<text x="1112" y="1184">10.5</text><text x="1159" y="1184">5.5</text><text x="1206" y="1184">2.0</text></g>
<text x="1251" y="1081" class="c">M4</text><text x="1251" y="1114" class="c">M5</text><text x="1251" y="1172" class="c">M6</text>
</g>
</svg>
</body></html>
